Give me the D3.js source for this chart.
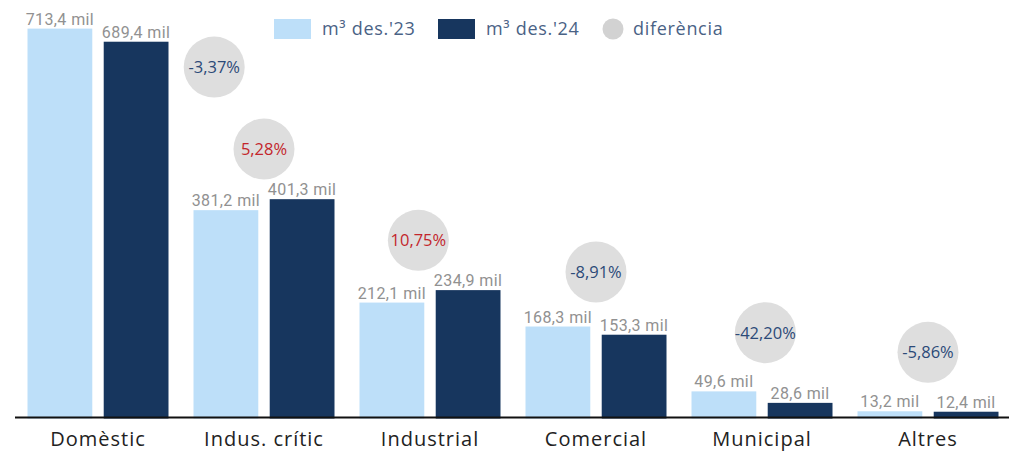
<!DOCTYPE html>
<html lang="ca">
<head>
<meta charset="UTF-8">
<title>Consum d'aigua per ús</title>
<script src="https://d3js.org/d3.v7.min.js"></script>
<style>
  body { margin: 0; background: #fff; }
  svg { display: block; }
</style>
</head>
<body>
<div id="chart"></div>
<script>
// data (milers de m3)
var categories = ['Domèstic', 'Indus. crític', 'Industrial', 'Comercial', 'Municipal', 'Altres'];
var des23 = [713.4, 381.2, 212.1, 168.3, 49.6, 13.2];
var des24 = [689.4, 401.3, 234.9, 153.3, 28.6, 12.4];
var diferencia = [-3.37, 5.28, 10.75, -8.91, -42.20, -5.86];
// where the difference bubbles sit (same units as bars) and their shift inside the band
var difPosY = [643, 493, 326, 268, 157, 121];
var difShift = [0.70, 0, -0.07, 0, 0.02, 0];
var seriesNames = ["m³ des.'23", "m³ des.'24", 'diferència'];

var width = 1009, height = 451;
var margin = {top: 28.6, left: 15};
var baseY = 418.5;

var colLight = '#bddff9';
var colDark = '#17365e';
var colBubble = '#dedede';

var loc = d3.formatLocale({decimal: ',', thousands: '.', grouping: [3], currency: ['', '€'], minus: '-'});

var svg = d3.select('#chart').append('svg')
  .attr('width', width)
  .attr('height', height);

var x = d3.scaleBand()
  .domain(categories)
  .range([margin.left, margin.left + 6 * 166]);

var xs = d3.scaleBand()
  .domain(['23', '24'])
  .range([12.5, 153.5])
  .paddingInner(0.15);

var y = d3.scaleLinear()
  .domain([0, 713.4])
  .range([baseY, margin.top]);

var fmt = function(v) { return loc.format('.1f')(v) + ' mil'; };
var fmtPct = function(v) { return loc.format('.2f')(v) + '%'; };

var rows = categories.map(function(c, i) {
  return {cat: c, a: des23[i], b: des24[i], d: diferencia[i], py: difPosY[i], sh: difShift[i]};
});

var g = svg.append('g');

var groups = g.selectAll('g.cat')
  .data(rows)
  .join('g')
  .attr('class', 'cat')
  .attr('transform', function(d) { return 'translate(' + x(d.cat) + ',0)'; });

// bars
groups.append('rect')
  .attr('x', xs('23'))
  .attr('y', function(d) { return y(d.a); })
  .attr('width', xs.bandwidth())
  .attr('height', function(d) { return baseY - y(d.a); })
  .attr('fill', colLight);

groups.append('rect')
  .attr('x', xs('24'))
  .attr('y', function(d) { return y(d.b); })
  .attr('width', xs.bandwidth())
  .attr('height', function(d) { return baseY - y(d.b); })
  .attr('fill', colDark);

// value labels
groups.append('text')
  .attr('x', xs('23') + xs.bandwidth() / 2)
  .attr('y', function(d) { return y(d.a) - 4; })
  .attr('text-anchor', 'middle')
  .style('font-family', 'Roboto, sans-serif')
  .style('font-size', '16px')
  .style('letter-spacing', '0.4px')
  .style('fill', '#919191')
  .text(function(d) { return fmt(d.a); });

groups.append('text')
  .attr('x', xs('24') + xs.bandwidth() / 2)
  .attr('y', function(d) { return y(d.b) - 4; })
  .attr('text-anchor', 'middle')
  .style('font-family', 'Roboto, sans-serif')
  .style('font-size', '16px')
  .style('letter-spacing', '0.4px')
  .style('fill', '#919191')
  .text(function(d) { return fmt(d.b); });

// difference bubbles
var bub = groups.append('g')
  .attr('transform', function(d) {
    return 'translate(' + (x.bandwidth() / 2 + d.sh * x.bandwidth()) + ',' + y(d.py) + ')';
  });

bub.append('circle')
  .attr('r', 30.5)
  .attr('fill', colBubble);

bub.append('text')
  .attr('y', 6)
  .attr('text-anchor', 'middle')
  .style('font-family', 'Open Sans')
  .style('font-size', '16.5px')
  .style('fill', function(d) { return d.d > 0 ? '#c3262c' : '#2c4a78'; })
  .text(function(d) { return fmtPct(d.d); });

// x axis
var xAxis = g.append('g')
  .attr('transform', 'translate(0,417.5)')
  .call(d3.axisBottom(x).tickSize(0).tickPadding(14));
xAxis.select('.domain')
  .attr('stroke', '#111')
  .attr('stroke-width', 2)
  .attr('d', 'M' + margin.left + ',0H' + width);
xAxis.selectAll('text')
  .style('font-family', 'Open Sans')
  .style('font-size', '20px')
  .style('letter-spacing', '1px')
  .style('fill', '#222');

// legend
var legend = svg.append('g');
var legItems = [
  {name: seriesNames[0], type: 'rect', color: colLight, x: 274},
  {name: seriesNames[1], type: 'rect', color: colDark, x: 438},
  {name: seriesNames[2], type: 'circle', color: '#d2d2d2', x: 603}
];
var li = legend.selectAll('g')
  .data(legItems)
  .join('g')
  .attr('transform', function(d) { return 'translate(' + d.x + ',19)'; });

li.filter(function(d) { return d.type === 'rect'; })
  .append('rect')
  .attr('width', 37)
  .attr('height', 20)
  .attr('fill', function(d) { return d.color; });

li.filter(function(d) { return d.type === 'circle'; })
  .append('circle')
  .attr('cx', 10)
  .attr('cy', 10)
  .attr('r', 10.5)
  .attr('fill', function(d) { return d.color; });

li.append('text')
  .attr('x', function(d) { return d.type === 'rect' ? 48 : 30; })
  .attr('y', 16)
  .style('font-family', 'Open Sans')
  .style('font-size', '18px')
  .style('letter-spacing', '0.7px')
  .style('fill', '#4a6285')
  .text(function(d) { return d.name; });
</script>
</body>
</html>
